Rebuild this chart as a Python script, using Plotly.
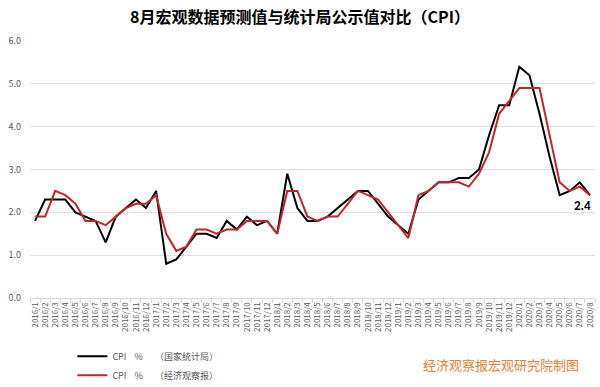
import plotly.graph_objects as go

months = [f"{y}/{m}" for y in range(2016, 2021) for m in range(1, 13)][:56]

cpi_nbs = [1.8, 2.3, 2.3, 2.3, 2.0, 1.9, 1.8, 1.3, 1.9, 2.1, 2.3, 2.1,
           2.5, 0.8, 0.9, 1.2, 1.5, 1.5, 1.4, 1.8, 1.6, 1.9, 1.7, 1.8,
           1.5, 2.9, 2.1, 1.8, 1.8, 1.9, 2.1, 2.3, 2.5, 2.5, 2.2, 1.9,
           1.7, 1.5, 2.3, 2.5, 2.7, 2.7, 2.8, 2.8, 3.0, 3.8, 4.5, 4.5,
           5.4, 5.2, 4.3, 3.3, 2.4, 2.5, 2.7, 2.4]

cpi_eeo = [1.9, 1.9, 2.5, 2.4, 2.2, 1.8, 1.8, 1.7, 1.9, 2.1, 2.2, 2.2,
           2.4, 1.5, 1.1, 1.2, 1.6, 1.6, 1.5, 1.6, 1.6, 1.8, 1.8, 1.8,
           1.5, 2.5, 2.5, 1.9, 1.8, 1.9, 1.9, 2.2, 2.5, 2.4, 2.3, 2.0,
           1.7, 1.4, 2.4, 2.5, 2.7, 2.7, 2.7, 2.6, 2.9, 3.4, 4.3, 4.6,
           4.9, 4.9, 4.9, 3.8, 2.7, 2.5, 2.6, 2.4]

y_ticks = [0, 1, 2, 3, 4, 5, 6]
y_tick_labels = ["0.0", "1.0", "2.0", "3.0", "4.0", "5.0", "6.0"]

name_nbs = "CPI\u00a0\u00a0\u00a0\u00a0%\u00a0\u00a0\u00a0\u00a0\u00a0\u00a0（国家统计局）"
name_eeo = "CPI\u00a0\u00a0\u00a0\u00a0%\u00a0\u00a0\u00a0\u00a0\u00a0\u00a0（经济观察报）"

font_family = "Noto Sans CJK SC, Noto Sans, sans-serif"

fig = go.Figure()
fig.add_trace(go.Scatter(x=months, y=cpi_nbs, mode="lines", name=name_nbs,
                         line=dict(color="#000000", width=2)))
fig.add_trace(go.Scatter(x=months, y=cpi_eeo, mode="lines", name=name_eeo,
                         line=dict(color="#C0272D", width=2)))

fig.add_annotation(x=months[-1], y=cpi_nbs[-1], text="<b>2.4</b>", showarrow=False,
                   xanchor="center", yanchor="top", yshift=-1, xshift=-7,
                   font=dict(size=13, color="#000000", family="Calibri, Liberation Sans, sans-serif"))

fig.add_annotation(x=0.975, y=-0.215, xref="paper", yref="paper", yanchor="top", xanchor="right",
                   text="经济观察报宏观研究院制图", showarrow=False,
                   font=dict(size=13, color="#E58236", family="Noto Sans CJK SC"))

fig.update_layout(
    width=600, height=387,
    margin=dict(l=30, r=5, t=41, b=89, autoexpand=False),
    paper_bgcolor="white", plot_bgcolor="white",
    title=dict(text="<b>8月宏观数据预测值与统计局公示值对比（CPI）</b>", x=0.5, xanchor="center",
               y=0.955, yanchor="middle", font=dict(size=16, color="#000000", family=font_family)),
    font=dict(family=font_family, color="#595959", size=9),
    showlegend=True,
    legend=dict(x=0.075, y=-0.17, xanchor="left", yanchor="top", orientation="v",
                font=dict(size=9, color="#595959"), bgcolor="rgba(0,0,0,0)", tracegroupgap=0),
    xaxis=dict(type="category", tickangle=-90, tickfont=dict(size=8, color="#595959"),
               showgrid=False, showline=True, linecolor="#d9d9d9", linewidth=1,
               ticks="outside", ticklen=4, tickcolor="#d9d9d9", tickson="boundaries",
               range=[-0.5, 55.5]),
    yaxis=dict(range=[0, 6], tickvals=y_ticks, ticktext=y_tick_labels, showgrid=True,
               gridcolor="#e0e0e0", gridwidth=1, zeroline=False, showline=False,
               tickfont=dict(size=9, color="#595959"), ticks="", ticklabelstandoff=8),
)

fig.write_html("out.html")
